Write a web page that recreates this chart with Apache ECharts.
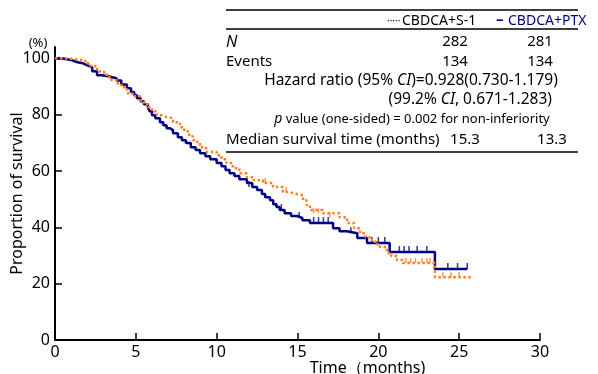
<!DOCTYPE html>
<html>
<head>
<meta charset="utf-8">
<script src="https://cdn.jsdelivr.net/npm/echarts@6/dist/echarts.min.js"></script>
<style>
  html, body { margin: 0; padding: 0; background: #fff; }
  #chart { width: 598px; height: 374px; }
</style>
</head>
<body>
<div id="chart"></div>
<script>
// KM curves (months, % surviving)
const ptxTime = [0, 0.4, 0.8, 1.05, 1.4, 1.73, 2.0, 2.3, 2.6, 2.9, 3.3, 3.59, 3.8, 4.1, 4.45, 4.7, 4.9, 5.07, 5.3, 5.5,
  5.75, 5.85, 6.0, 6.2, 6.49, 6.7, 6.9, 7.1, 7.3, 7.6, 7.85, 8.1, 8.4, 8.7, 8.97, 9.3, 9.6, 10.0, 10.3, 10.55,
  10.8, 11.1, 11.4, 11.87, 12.2, 12.5, 12.8, 13.0, 13.3, 13.5, 13.7, 13.9, 14.2, 14.6, 14.97, 15.3, 15.77, 17.2,
  17.6, 18.06, 18.7, 19.3, 20.7, 23.5, 25.5]
const ptxSurv = [100, 99.6, 99.3, 98.6, 98.2, 97.5, 96.8, 95.4, 94.0, 93.6, 93.2, 92.9, 92.1, 90.7, 89.4, 88.0, 86.9, 85.8, 84.7, 83.7,
  82.6, 81.2, 79.8, 78.7, 77.3, 76.2, 75.2, 74.5, 73.4, 72.0, 70.9, 69.9, 68.4, 67.4, 66.3, 65.2, 64.2, 62.8, 61.7, 60.3,
  59.2, 58.2, 57.1, 55.7, 54.3, 53.2, 51.8, 50.7, 49.6, 48.2, 47.2, 46.1, 45.0, 44.0, 43.3, 42.5, 41.5, 39.7,
  38.6, 37.9, 36.2, 34.4, 31.2, 25.2, 25.2]

const s1Time = [0, 0.6, 1.36, 1.86, 2.2, 2.5, 2.78, 3.2, 3.5, 3.83, 4.1, 4.45, 4.8, 5.26, 5.5, 5.75, 6.0, 6.3, 6.6, 6.93,
  7.3, 7.73, 8.0, 8.3, 8.53, 8.8, 9.1, 9.4, 10.0, 10.3, 10.6, 11.0, 11.4, 11.87, 12.3, 12.86, 13.48, 14.1, 14.5, 14.97,
  15.34, 15.55, 15.77, 16.57, 17.6, 18.06, 18.5, 18.86, 19.2, 19.48, 19.8, 20.1, 20.53, 20.8, 21.15, 21.5, 23.5, 25.8]
const s1Surv = [100, 99.6, 99.3, 98.2, 97.2, 96.1, 95.0, 93.3, 92.2, 91.1, 89.7, 87.6, 86.5, 85.1, 83.7, 82.6, 81.2, 79.8, 79.1, 78.7,
  77.3, 75.5, 74.1, 72.3, 70.9, 69.5, 68.1, 66.7, 65.6, 64.2, 62.8, 61.0, 59.2, 57.8, 56.7, 55.7, 54.3, 52.5, 51.8, 51.4,
  49.6, 47.9, 46.1, 45.0, 43.6, 41.5, 39.7, 37.9, 36.5, 35.5, 34.0, 33.0, 30.9, 29.8, 28.4, 27.3, 22.3, 22.3]

// censor marks
const ptxCensor = [[12.0, 54.3], [14.0, 46.1], [15.1, 43.3], [16.0, 41.5], [16.3, 41.5], [16.6, 41.5], [16.9, 41.5], [18.3, 37.9],
  [19.6, 34.4], [20.0, 34.4], [20.4, 34.4], [21.3, 31.2], [21.6, 31.2], [21.9, 31.2], [22.4, 31.2], [23.0, 31.2],
  [24.3, 25.2], [24.9, 25.2], [25.5, 25.2]]
const s1Censor = [[13.0, 55.7], [14.3, 52.5], [16.0, 45.0], [16.3, 45.0], [17.0, 43.6], [21.7, 27.3], [22.0, 27.3], [22.3, 27.3],
  [22.7, 27.3], [23.0, 27.3], [23.2, 27.3], [24.0, 22.3], [24.5, 22.3], [25.0, 22.3]]

const yTicks = [0, 20, 40, 60, 80, 100]

// summary table
const armNames = ['CBDCA+S-1', 'CBDCA+PTX']
const nPatients = ['282', '281']
const nEvents = ['134', '134']
const medianOS = ['15.3', '13.3']

const FONT = 'Noto Sans'
const NAVY = '#000080'
const ORANGE = '#ff7f27'

const chart = echarts.init(document.getElementById('chart'))

const zip = (t, s) => t.map((v, i) => [v, s[i]])

const txt = (x, y, text, extra) => ({
  type: 'text', x, y,
  style: Object.assign({ text, fontFamily: FONT, fontSize: 15, fill: '#000', textVerticalAlign: 'middle' }, extra),
})
const hline = (y) => ({ type: 'line', shape: { x1: 226, y1: y, x2: 578, y2: y }, style: { stroke: '#000', lineWidth: 1.3 } })
const richStyle = (size) => ({
  r: { fontFamily: FONT, fontSize: size, fill: '#000' },
  i: { fontFamily: FONT, fontSize: size, fill: '#000', fontStyle: 'italic' },
})

const option = {
  animation: false,
  grid: { left: 55, right: 58, top: 47, bottom: 34, outerBoundsMode: 'none', containLabel: false },
  xAxis: {
    type: 'value', min: 0, max: 30, interval: 5,
    name: 'Time（months)', nameLocation: 'middle', nameGap: 20, nameMoveOverlap: false,
    nameTextStyle: { fontFamily: FONT, fontSize: 16, color: '#000', padding: [0, 0, 0, 140] },
    axisLine: { lineStyle: { color: '#000', width: 2 } },
    axisTick: { inside: true, length: 7, lineStyle: { color: '#000', width: 1.5 } },
    axisLabel: { fontFamily: FONT, fontSize: 16, color: '#000', margin: 4 },
    splitLine: { show: false },
  },
  yAxis: {
    type: 'value', min: 0, max: 104,
    name: 'Proportion of survival', nameLocation: 'middle', nameGap: 30, nameMoveOverlap: false,
    nameTextStyle: { fontFamily: FONT, fontSize: 16, color: '#000' },
    axisLine: { show: true, lineStyle: { color: '#000', width: 2 } },
    axisTick: { show: true, inside: true, length: 7, customValues: yTicks, lineStyle: { color: '#000', width: 1.5 } },
    axisLabel: { fontFamily: FONT, fontSize: 16, color: '#000', margin: 5, customValues: yTicks },
    splitLine: { show: false },
  },
  series: [
    {
      name: armNames[0], type: 'line', step: 'end', showSymbol: false,
      data: zip(s1Time, s1Surv),
      lineStyle: { color: ORANGE, width: 2.5, type: [2.5, 2.5] },
      z: 3,
    },
    {
      name: armNames[1], type: 'line', step: 'end', showSymbol: false,
      data: zip(ptxTime, ptxSurv),
      lineStyle: { color: NAVY, width: 2.5 },
      z: 2,
    },
    {
      type: 'scatter', data: ptxCensor, symbol: 'rect', symbolSize: [1.5, 6], symbolOffset: [0, -3],
      itemStyle: { color: NAVY }, z: 2,
    },
    {
      type: 'scatter', data: s1Censor, symbol: 'rect', symbolSize: [1.5, 5], symbolOffset: [0, -2.5],
      itemStyle: { color: ORANGE }, z: 3,
    },
  ],
  graphic: [
    txt(38, 43, '(%)', { textAlign: 'center', fontSize: 13 }),
    hline(10), hline(29), hline(152),
    txt(387, 21, '·····', { fontSize: 10 }),
    txt(402, 21, armNames[0], { fontSize: 14 }),
    txt(496, 20, '–', { fontSize: 15, fill: NAVY, fontWeight: 'bold' }),
    txt(508, 21, armNames[1], { fontSize: 14, fill: NAVY }),
    txt(226, 42, 'N', { fontStyle: 'italic', fontSize: 16 }),
    txt(455, 42, nPatients[0], { textAlign: 'center' }),
    txt(540, 42, nPatients[1], { textAlign: 'center' }),
    txt(226, 62, 'Events'),
    txt(455, 62, nEvents[0], { textAlign: 'center' }),
    txt(540, 62, nEvents[1], { textAlign: 'center' }),
    {
      type: 'text', x: 411, y: 81,
      style: {
        text: '{r|Hazard ratio (95% }{i|CI}{r|)=0.928(0.730-1.179)}',
        textAlign: 'center', textVerticalAlign: 'middle', rich: richStyle(15.5),
      },
    },
    {
      type: 'text', x: 552, y: 100,
      style: {
        text: '{r|(99.2% }{i|CI}{r|, 0.671-1.283)}',
        textAlign: 'right', textVerticalAlign: 'middle', rich: richStyle(15.5),
      },
    },
    {
      type: 'text', x: 412, y: 119,
      style: {
        text: '{i|p}{r| value (one-sided) = 0.002 for non-inferiority}',
        textAlign: 'center', textVerticalAlign: 'middle',
        rich: {
          r: { fontFamily: FONT, fontSize: 13, fill: '#000' },
          i: { fontFamily: FONT, fontSize: 14, fill: '#000', fontStyle: 'italic' },
        },
      },
    },
    txt(226, 140, 'Median survival time (months)'),
    txt(465, 140, medianOS[0], { textAlign: 'center' }),
    txt(552, 140, medianOS[1], { textAlign: 'center' }),
  ],
}

chart.setOption(option)
</script>
</body>
</html>
